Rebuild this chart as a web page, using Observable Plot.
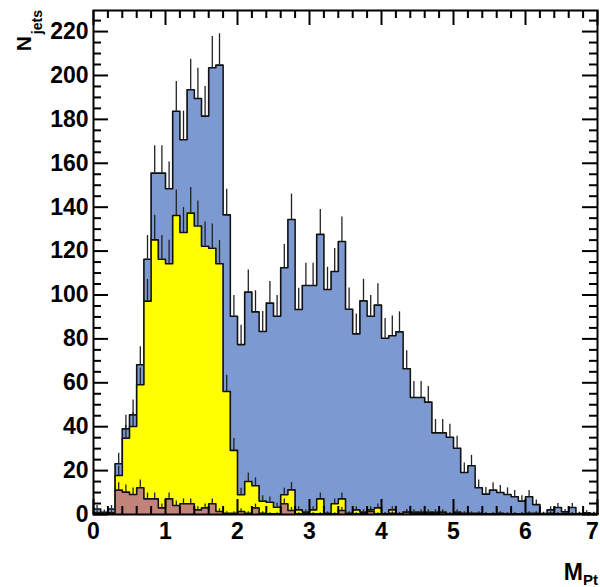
<!DOCTYPE html>
<html><head><meta charset="utf-8">
<script src="https://cdn.jsdelivr.net/npm/d3@7"></script>
<script src="https://cdn.jsdelivr.net/npm/@observablehq/plot@0.6"></script>
<style>html,body{margin:0;padding:0;background:#fff;}</style>
</head><body><div id="chart"></div>
<script>
// Histogram: 70 bins of width 0.1 from 0 to 7
const binStart = 0;
const binWidth = 0.1;
const total = [2.5,1,2.5,23.1,39.0,45.4,68.2,116.3,155.5,155.5,
  148.4,183.7,170.7,193.5,189.5,181.5,203.5,204.7,136.5,90.3,
  77.4,101.3,92.3,83.4,96.3,90.3,112.4,134.4,93.4,104.3,
  104.3,127.6,102.5,110.7,124.4,93.5,82.3,97.3,90.3,95.4,
  80.3,81.4,83.2,66.4,53.3,53.3,51.2,37.2,37.2,35.2,
  30.2,19.1,22.2,12.2,9.3,11.1,10.0,9.1,8.1,6.1,
  8.1,4.5,0.4,2.1,3.2,1.2,3.2,0.4,0.8,0.4];
const yellowSeries = [0.8,0.5,0.8,17.8,34.8,40.1,59.1,97.2,125.1,116.3,
  114.2,136.2,128.5,137.3,131.4,122.2,121.3,114.2,56.0,29.2,
  9.0,15.0,13.1,6.1,5.6,3.3,9.0,11.2,2.1,1.1,
  2.1,7.1,0.5,4.9,7.1,0.5,2.1,1.1,2.1,3.0,
  0.3,2.1,0.3,1.1,1.1,1.1,1.1,1.1,1.1,0.3,
  1.1,0.5,0.5,0.5,0.3,0.3,0.3,0.3,0.3,0.3,
  0.5,0.5,0.3,0.5,0.3,0.3,0.3,0.3,0.3,0.3];
const brownSeries = [0.3,0.2,0.3,11.1,10.2,9.1,12.2,7.1,7.1,3.0,
  7.1,4.1,4.9,4.9,2.1,3.0,4.9,1.4,0.5,0.5,
  1.4,0.5,3.0,0.5,0.3,0.3,4.9,1.8,0.3,0.3,
  0.3,0.3,0.3,0.3,1.8,0.3,0.3,0.3,1.4,0.3,
  0.3,0.5,0.3,1.1,0.3,0.3,0.3,0.3,0.8,0.3,
  0.3,0.3,0.3,0.3,0.3,0.3,0.5,0.3,0.3,0.3,
  0.3,0.3,0.3,0.3,0.3,0.3,0.3,0.3,0.3,0.3];
const xTickLabels = [0,1,2,3,4,5,6,7];
const yTickLabels = [0,20,40,60,80,100,120,140,160,180,200,220];

const W = 600, H = 587;
const mL = 93, mR = 3, mT = 10, mB = 73;
const innerW = W - mL - mR, innerH = H - mT - mB;
const font = "'Liberation Sans', Arial, Helvetica, sans-serif";

function steps(vals) {
  const pts = vals.map((v, i) => ({x: binStart + i * binWidth, v}));
  pts.push({x: binStart + vals.length * binWidth, v: vals[vals.length - 1]});
  return pts;
}
function errs(vals) {
  return vals.map((v, i) => ({x: binStart + (i + 0.5) * binWidth, v, e: Math.sqrt(v)}));
}
function layer(vals, fill) {
  return [
    Plot.areaY(steps(vals), {x: "x", y1: 0, y2: "v", curve: "step-after", fill}),
    Plot.lineY(steps(vals), {x: "x", y: "v", curve: "step-after", stroke: "#111", strokeWidth: 1.6}),
    Plot.ruleX(errs(vals), {x: "x", y1: "v", y2: d => d.v + d.e, stroke: "#222", strokeWidth: 1.3})
  ];
}

const xMinor = d3.range(0, 71, 2).map(d => d / 10).filter(d => !xTickLabels.includes(d));
const yMinor = d3.range(0, 230, 5).filter(d => !yTickLabels.includes(d));
const lastX = xTickLabels[xTickLabels.length - 1];
const axisText = {tickSize: 0, tickPadding: 8, fontSize: 23, fontWeight: "bold", fill: "black", label: null};

const chart = Plot.plot({
  width: W, height: H,
  marginLeft: mL, marginRight: mR, marginTop: mT, marginBottom: mB,
  x: {domain: [0, 7]},
  y: {domain: [0, 229.6]},
  style: {fontFamily: font, fontWeight: "bold", background: "white"},
  marks: [
    ...layer(total, "#7d99d1"),
    ...layer(yellowSeries, "#ffff00"),
    ...layer(brownSeries, "#c2837a"),
    // inward ticks
    Plot.tickX(xTickLabels, {x: d => d, insetTop: innerH - 15, stroke: "black", strokeWidth: 2}),
    Plot.tickX(xMinor, {x: d => d, insetTop: innerH - 8, stroke: "black", strokeWidth: 2}),
    Plot.tickX(xTickLabels, {x: d => d, insetBottom: innerH - 15, stroke: "black", strokeWidth: 2}),
    Plot.tickX(xMinor, {x: d => d, insetBottom: innerH - 8, stroke: "black", strokeWidth: 2}),
    Plot.tickY(yTickLabels, {y: d => d, insetRight: innerW - 15, stroke: "black", strokeWidth: 2}),
    Plot.tickY(yMinor, {y: d => d, insetRight: innerW - 8, stroke: "black", strokeWidth: 2}),
    Plot.tickY(yTickLabels, {y: d => d, insetLeft: innerW - 15, stroke: "black", strokeWidth: 2}),
    Plot.tickY(yMinor, {y: d => d, insetLeft: innerW - 8, stroke: "black", strokeWidth: 2}),
    Plot.frame({stroke: "black", strokeWidth: 2}),
    Plot.axisX(xTickLabels.slice(0, -1), axisText),
    Plot.axisX([lastX], {...axisText, dx: -5}),
    Plot.axisY(yTickLabels, {tickSize: 0, tickPadding: 5, fontSize: 23, fontWeight: "bold", fill: "black", label: null})
  ]
});

const svg = d3.select(chart);
// Y title: N_jets (rotated)
const yt = svg.append("text")
  .attr("transform", "translate(31,10) rotate(-90)")
  .attr("text-anchor", "end")
  .attr("font-family", font).attr("font-weight", "bold").attr("fill", "black");
yt.append("tspan").attr("font-size", 21).text("N");
yt.append("tspan").attr("font-size", 14).attr("dx", 2).attr("dy", 11).text("jets");
// X title: M_Pt
const xt = svg.append("text")
  .attr("transform", "translate(598,580)")
  .attr("text-anchor", "end")
  .attr("font-family", font).attr("font-weight", "bold").attr("fill", "black");
xt.append("tspan").attr("font-size", 23).text("M");
xt.append("tspan").attr("font-size", 15).attr("dy", 5).text("Pt");

document.getElementById("chart").appendChild(chart);
</script>
</body></html>
